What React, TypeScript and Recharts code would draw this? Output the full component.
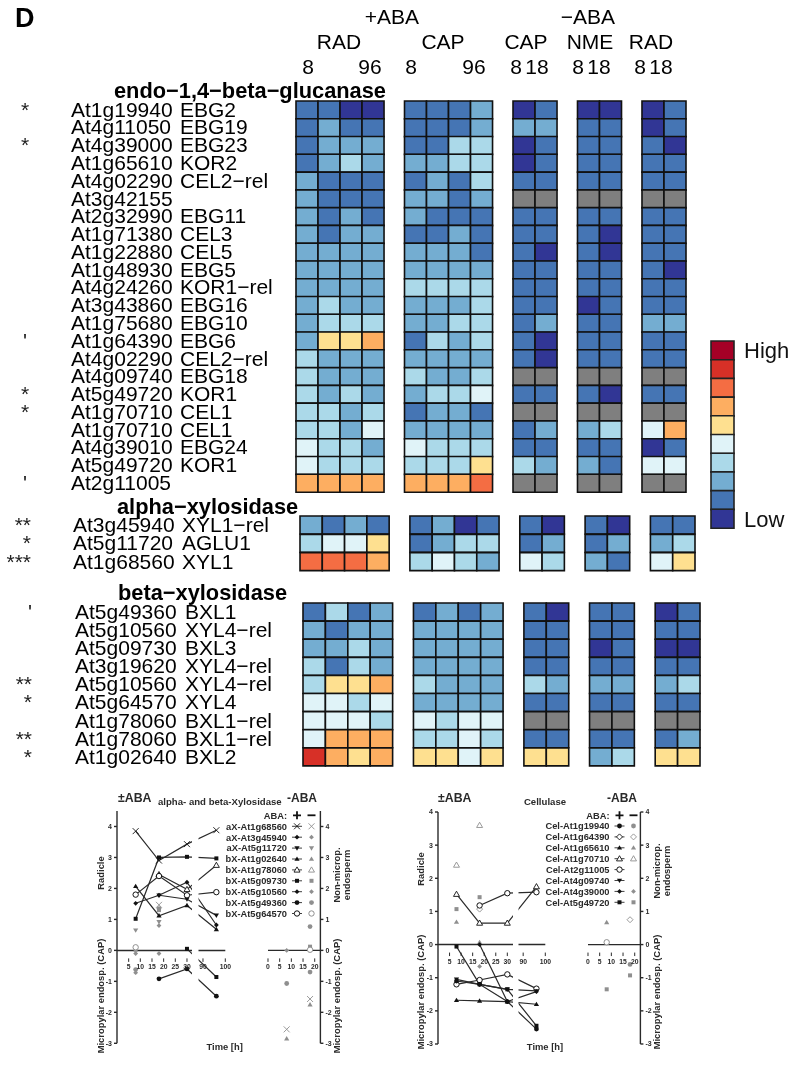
import React from "react";
import { BarChart, Bar, Cell, XAxis, YAxis, LineChart, Line, ReferenceLine } from "recharts";

const FONT = "'Liberation Sans', Arial, sans-serif";
const PALETTE = ["#313695", "#4575b4", "#74add1", "#abd9e9", "#e0f3f8", "#fee090", "#fdae61", "#f46d43", "#d73027", "#a50026"];
const NA_COLOR = "#7f7f7f";
const N = -1;

const endoIds = ["At1g19940","At4g11050","At4g39000","At1g65610","At4g02290","At3g42155","At2g32990","At1g71380","At1g22880","At1g48930","At4g24260","At3g43860","At1g75680","At1g64390","At4g02290","At4g09740","At5g49720","At1g70710","At1g70710","At4g39010","At5g49720","At2g11005"];
const endoNames = ["EBG2","EBG19","EBG23","KOR2","CEL2\u2212rel","","EBG11","CEL3","CEL5","EBG5","KOR1\u2212rel","EBG16","EBG10","EBG6","CEL2\u2212rel","EBG18","KOR1","CEL1","CEL1","EBG24","KOR1",""];
const endoMarks = ["*","","*","","","","","","","","","","","'","","","*","*","","","","'"];
const endoLevels = [
  [1,1,0,0,1,1,1,2,0,1,0,0,0,1],
  [1,2,1,1,1,1,1,2,2,2,1,1,0,1],
  [1,2,2,2,1,1,3,3,0,1,1,1,1,0],
  [1,2,3,2,2,2,3,3,0,1,1,1,1,1],
  [2,1,1,1,1,2,1,3,1,1,1,1,1,1],
  [2,1,1,1,2,2,1,2,N,N,N,N,N,N],
  [2,1,2,1,2,1,1,1,1,1,1,1,1,1],
  [2,1,2,2,1,1,2,1,1,1,1,0,1,1],
  [2,2,2,2,2,2,2,1,1,0,1,0,1,1],
  [2,2,2,2,2,2,2,2,1,1,1,1,1,0],
  [2,2,2,2,3,3,3,3,1,1,1,1,1,1],
  [2,3,2,2,2,2,2,3,1,1,0,1,1,1],
  [2,3,3,3,2,2,3,3,1,2,1,1,2,2],
  [2,5,5,6,1,3,2,3,1,0,1,1,1,1],
  [3,2,2,2,2,2,2,2,1,0,1,1,1,1],
  [3,2,2,2,3,2,2,3,N,N,N,N,N,N],
  [3,2,3,2,2,3,3,4,1,1,1,0,1,1],
  [3,3,2,3,1,2,2,1,N,N,N,N,N,N],
  [3,3,2,4,2,2,2,2,1,2,2,3,4,6],
  [4,3,3,2,4,3,3,3,1,1,1,1,0,1],
  [4,3,3,3,3,3,3,5,3,2,2,1,4,4],
  [6,6,6,6,6,6,6,7,N,N,N,N,N,N],
];

const alphaIds = ["At3g45940","At5g11720","At1g68560"];
const alphaNames = ["XYL1\u2212rel","AGLU1","XYL1"];
const alphaMarks = ["**","*","***"];
const alphaLevels = [
  [2,1,2,1,1,2,0,1,1,0,1,0,1,1],
  [3,4,4,5,1,2,3,3,1,2,1,2,2,3],
  [7,7,7,6,3,4,3,2,4,3,2,1,4,5],
];

const betaIds = ["At5g49360","At5g10560","At5g09730","At3g19620","At5g10560","At5g64570","At1g78060","At1g78060","At1g02640"];
const betaNames = ["BXL1","XYL4\u2212rel","BXL3","XYL4\u2212rel","XYL4\u2212rel","XYL4","BXL1\u2212rel","BXL1\u2212rel","BXL2"];
const betaMarks = ["'","","","","**","*","","**","*"];
const betaLevels = [
  [1,3,1,2,1,2,1,2,1,0,1,1,0,1],
  [2,1,2,2,2,2,2,2,1,1,1,1,1,1],
  [2,2,3,2,2,2,2,2,1,1,0,1,0,0],
  [3,1,3,2,2,2,2,2,1,1,1,1,1,1],
  [3,5,5,6,3,2,2,2,3,2,2,2,2,3],
  [4,4,3,4,2,2,2,2,1,1,1,1,1,1],
  [4,4,4,3,4,3,4,4,N,N,N,N,N,N],
  [4,6,6,6,3,3,4,3,1,1,1,1,1,2],
  [8,6,5,6,5,5,4,5,5,5,2,3,5,5],
];

const scaleLevels = [9,8,7,6,5,4,3,2,1,0];
const scaleLabels = ["High","","","","","","","","","Low"];

type Seg = { kind: string; values: (number | null)[] };
const timeHours = [8, 18, 30, 96];
const minusHours = [8, 18];

const xylPlus: Seg[] = [
  { kind: "x", values: [3.85, 2.9, 3.43, 3.88] },
  { kind: "tridown", values: [null, 1.78, 1.65, 1.13] },
  { kind: "tri", values: [2.07, 1.12, 1.45, 0.68] },
  { kind: "opentri", values: [null, 2.45, 1.97, 2.75] },
  { kind: "square", values: [1.02, 3.0, 3.02, 2.97] },
  { kind: "square", values: [null, null, 0.05, -0.86] },
  { kind: "star", values: [1.52, 1.78, 2.2, 0.82] },
  { kind: "circle", values: [null, -0.92, -0.6, -1.48] },
  { kind: "opencircle", values: [1.8, 2.4, 1.78, 1.88] },
];
const xylGreyAt: Seg[] = [
  { kind: "x", values: [null, 1.47, null, null] },
  { kind: "circle", values: [-0.62, 1.35, null, null] },
  { kind: "square", values: [0.02, 1.3, null, null] },
  { kind: "tridown", values: [0.65, 0.92, null, null] },
  { kind: "star", values: [-0.72, 0.8, null, null] },
  { kind: "opencircle", values: [0.1, null, null, null] },
  { kind: "star", values: [-0.1, -0.1, null, null] },
];
const xylMinus: Seg[] = [
  { kind: "x", values: [-2.55, -1.57] },
  { kind: "tri", values: [-2.85, -1.75] },
  { kind: "circle", values: [-1.07, -0.7] },
  { kind: "circle", values: [null, 0.77] },
  { kind: "square", values: [null, 0.12] },
  { kind: "opencircle", values: [null, 0.02] },
  { kind: "star", values: [0, null] },
];
const celPlus: Seg[] = [
  { kind: "opentri", values: [1.52, 0.65, 0.65, 1.75] },
  { kind: "opencircle", values: [null, 1.18, 1.55, 1.58] },
  { kind: "opencircle", values: [-1.2, -1.07, -0.9, -1.33] },
  { kind: "circle", values: [-1.1, -1.2, -1.72, -2.55] },
  { kind: "tri", values: [-1.68, -1.7, -1.72, -1.8] },
  { kind: "square", values: [-0.06, -1.2, -1.35, -2.45] },
  { kind: "tridown", values: [-1.05, -1.2, -1.35, -1.4] },
  { kind: "star", values: [null, 0, -1.72, -1.42] },
];
const celGreyAt: Seg[] = [
  { kind: "opentri", values: [2.4, 3.6, null, null] },
  { kind: "square", values: [1.07, 1.43, null, null] },
  { kind: "tri", values: [0.68, 0.07, null, null] },
  { kind: "opendiamond", values: [null, 1.07, null, null] },
  { kind: "star", values: [null, -0.66, null, null] },
];
const celMinus: Seg[] = [
  { kind: "tri", values: [0.67, null] },
  { kind: "opencircle", values: [0.07, null] },
  { kind: "square", values: [-1.35, -0.93] },
  { kind: "opendiamond", values: [null, 0.75] },
  { kind: "circle", values: [null, -0.6] },
];

const xylLegendNames = ["aX-At1g68560","aX-At3g45940","aX-At5g11720","bX-At1g02640","bX-At1g78060","bX-At5g09730","bX-At5g10560","bX-At5g49360","bX-At5g64570"];
const xylLegendKinds = ["x","star","tridown","tri","opentri","square","star","circle","opencircle"];
const celLegendNames = ["Cel-At1g19940","Cel-At1g64390","Cel-At1g65610","Cel-At1g70710","Cel-At2g11005","Cel-At4g09740","Cel-At4g39000","Cel-At5g49720"];
const celLegendKinds = ["circle","opendiamond","tri","opentri","opencircle","tridown","star","square"];
const celLegendMinus = ["circle","opendiamond","tri","opentri","","", "star","square"];

const leftTicks = [5, 10, 15, 20, 25, 30, 90, 100];
const minusTicks = [0, 5, 10, 15, 20];
const valueTicks = [-3, -2, -1, 0, 1, 2, 3, 4];

// broken time axis: the stretch after 30 h is compressed
const brokenTime = (t: number) => (t <= 32 ? t : 46.43 - (100 - t) * 0.957);

const COLS = ["c0","c1","c2","c3","g0","c4","c5","c6","c7","g1","c8","c9","g2","c10","c11","g3","c12","c13"];
const GAP = 0.93;

function Heat({ ids, names, marks, levels, left, top, right, bottom, idX, nameX, markX, markAnchor }: any) {
  const data = levels.map((row: number[], i: number) => {
    const o: any = { row: i };
    row.forEach((v, j) => { o["c" + j] = 1; });
    [0, 1, 2, 3].forEach((g) => { o["g" + g] = GAP; });
    return o;
  });
  const Tick = (p: any) => {
    const i = Number(p.payload.value);
    const by = p.y + 6.8;
    return (
      <g fontFamily={FONT} fontSize={21} fill="#000">
        <text x={idX} y={by}>{ids[i]}</text>
        <text x={nameX} y={by}>{names[i]}</text>
        <text x={markX} y={by} textAnchor={markAnchor} fill="#222">{marks[i]}</text>
      </g>
    );
  };
  let col = 0;
  return (
    <div style={{ position: "absolute", left: 0, top: top - 2 }}>
      <BarChart layout="vertical" width={right + 2} height={bottom - top + 4} data={data} barCategoryGap={0} barGap={0}
        margin={{ top: 2, bottom: 2, left: 0, right: 2 }}>
        <XAxis type="number" hide domain={[0, 14 + 4 * GAP]} />
        <YAxis type="category" dataKey="row" width={left} axisLine={false} tickLine={false} tick={Tick} interval={0} />
        {COLS.map((k) => {
          if (k[0] === "g") return <Bar key={k} dataKey={k} stackId="s" fill="none" stroke="none" isAnimationActive={false} />;
          const c = col++;
          return (
            <Bar key={k} dataKey={k} stackId="s" stroke="#111" strokeWidth={1.6} isAnimationActive={false}>
              {levels.map((row: number[], i: number) => (
                <Cell key={i} fill={row[c] < 0 ? NA_COLOR : PALETTE[row[c]]} />
              ))}
            </Bar>
          );
        })}
      </BarChart>
    </div>
  );
}

function ColorScale() {
  const data = scaleLevels.map((v, i) => ({ label: String(i), one: 1 }));
  const Tick = (p: any) => {
    const t = scaleLabels[Number(p.payload.value)];
    return <text x={p.x + 2} y={p.y + 8} fontFamily={FONT} fontSize={22} fill="#111">{t}</text>;
  };
  return (
    <div style={{ position: "absolute", left: 709, top: 339 }}>
      <BarChart layout="vertical" width={87} height={191} data={data} barCategoryGap={0}
        margin={{ top: 2, bottom: 2, left: 2, right: 0 }}>
        <XAxis type="number" hide domain={[0, 1]} />
        <YAxis type="category" dataKey="label" orientation="right" width={62} axisLine={false} tickLine={false} tick={Tick} interval={0} />
        <Bar dataKey="one" stroke="#222" strokeWidth={1.6} isAnimationActive={false}>
          {scaleLevels.map((v) => <Cell key={v} fill={PALETTE[v]} />)}
        </Bar>
      </BarChart>
    </div>
  );
}

function Marker({ cx, cy, kind, color }: { cx: number; cy: number; kind: string; color: string }) {
  if (cx == null || cy == null) return <g />;
  const sw = 1;
  const s = 2.6;
  switch (kind) {
    case "x":
      return <path d={`M${cx - 3} ${cy - 3}L${cx + 3} ${cy + 3}M${cx - 3} ${cy + 3}L${cx + 3} ${cy - 3}`} stroke={color} strokeWidth={0.9} fill="none" />;
    case "circle":
      return <circle cx={cx} cy={cy} r={2.4} fill={color} />;
    case "opencircle":
      return <circle cx={cx} cy={cy} r={2.7} fill="#fff" stroke={color} strokeWidth={sw} />;
    case "square":
      return <rect x={cx - 2} y={cy - 2} width={4} height={4} fill={color} />;
    case "tri":
      return <path d={`M${cx} ${cy - s}L${cx + s} ${cy + s * 0.7}L${cx - s} ${cy + s * 0.7}Z`} fill={color} />;
    case "opentri":
      return <path d={`M${cx} ${cy - 3}L${cx + 3} ${cy + 2.2}L${cx - 3} ${cy + 2.2}Z`} fill="#fff" stroke={color} strokeWidth={sw * 0.9} />;
    case "tridown":
      return <path d={`M${cx} ${cy + s}L${cx + s} ${cy - s * 0.7}L${cx - s} ${cy - s * 0.7}Z`} fill={color} />;
    case "star":
      return <path d={`M${cx} ${cy - 2.4}L${cx + 2.4} ${cy}L${cx} ${cy + 2.4}L${cx - 2.4} ${cy}Z`} fill={color} />;
    case "opendiamond":
      return <path d={`M${cx} ${cy - 3}L${cx + 3} ${cy}L${cx} ${cy + 3}L${cx - 3} ${cy}Z`} fill="#fff" stroke={color} strokeWidth={sw * 0.9} />;
    default:
      return <g />;
  }
}

const INK = "#2a2a2a";
const GREY = "#8f8f8f";
const SOFT = "blur(0.3px)";

function TimeAxisTick({ x, y, payload, shift, fmt }: any) {
  const yy = y - shift;
  return (
    <g>
      <line x1={x} x2={x} y1={yy} y2={yy + 3.5} stroke={INK} strokeWidth={1} />
      <text x={x} y={yy + 11} textAnchor="middle" fontFamily={FONT} fontWeight={700} fontSize={6.8} fill={INK}>{fmt(payload.value)}</text>
    </g>
  );
}

function tableFrom(hours: number[], segs: Seg[], prefix: string, rows: any[]) {
  hours.forEach((h, i) => {
    rows[i] = rows[i] || { u: h <= 32 ? h : brokenTime(h) };
    segs.forEach((s, j) => { rows[i][prefix + j] = s.values[i]; });
  });
  return rows;
}

function TimeCourse({ plus, greyAt, minus, axisLeft, axisRightEnd, topY, bottomY, topVal, minusStart, minusEnd }: any) {
  const h = bottomY - topY;
  const unit = h / (topVal + 3);
  const shift = 3 * unit;
  const rows = tableFrom(timeHours, greyAt, "g", tableFrom(timeHours, plus, "p", []));
  const mRows = tableFrom(minusHours, minus, "m", []);
  const Y0 = 40;
  const PAD = 12;
  const dot = (kind: string, color: string) => (p: any) => <Marker key={p.key} cx={p.value == null ? (null as any) : p.cx} cy={p.cy} kind={kind} color={color} />;
  return (
    <>
      <div style={{ position: "absolute", left: axisLeft - Y0, top: topY - 4, filter: SOFT }}>
        <LineChart width={Y0 + axisRightEnd - axisLeft + PAD} height={h + 4 + 30} data={rows} margin={{ top: 4, left: 0, right: PAD, bottom: 0 }}>
          <XAxis type="number" dataKey="u" domain={[0, 46.43]} ticks={leftTicks.map(brokenTime)} height={30} interval={0} axisLine={false} tickLine={false}
            tick={<TimeAxisTick shift={shift} fmt={(v: number) => String(leftTicks[leftTicks.map(brokenTime).indexOf(v)])} />} />
          <YAxis type="number" domain={[-3, topVal]} ticks={valueTicks} width={Y0} interval={0} stroke={INK} strokeWidth={1.4} tickSize={3}
            tick={{ fontFamily: FONT, fontWeight: 700, fontSize: 7, fill: INK }} />
          {greyAt.map((s: Seg, j: number) => (
            <Line key={"g" + j} dataKey={"g" + j} stroke="none" dot={dot(s.kind, GREY)} legendType="none" isAnimationActive={false} />
          ))}
          {plus.map((s: Seg, j: number) => (
            <Line key={"p" + j} dataKey={"p" + j} stroke={INK} strokeWidth={1.2} dot={dot(s.kind, "#111")} isAnimationActive={false} />
          ))}
          <ReferenceLine y={0} stroke={INK} strokeWidth={1.5} />
        </LineChart>
      </div>
      <div style={{ position: "absolute", left: minusStart - PAD, top: topY - 4, filter: SOFT }}>
        <LineChart width={minusEnd - minusStart + 30 + PAD} height={h + 4 + 30} data={mRows} margin={{ top: 4, left: PAD, right: 0, bottom: 0 }}>
          <XAxis type="number" dataKey="u" domain={[0, 22.43]} ticks={minusTicks} height={30} interval={0} axisLine={false} tickLine={false}
            tick={<TimeAxisTick shift={shift} fmt={(v: number) => String(v)} />} />
          <YAxis type="number" orientation="right" domain={[-3, topVal]} ticks={valueTicks} width={30} interval={0} stroke={INK} strokeWidth={1.4} tickSize={3}
            tick={{ fontFamily: FONT, fontWeight: 700, fontSize: 7, fill: INK }} />
          <ReferenceLine y={0} stroke={INK} strokeWidth={1.2} />
          {minus.map((s: Seg, j: number) => (
            <Line key={"m" + j} dataKey={"m" + j} stroke="none" dot={dot(s.kind, GREY)} isAnimationActive={false} />
          ))}
        </LineChart>
      </div>
    </>
  );
}

function Txt({ x, y, s, w, a, rot, c, t }: any) {
  return (
    <text x={x} y={y} fontSize={s} fontWeight={w ? 700 : 400} textAnchor={a || "start"} fill={c || "#000"} fontFamily={FONT}
      transform={rot ? `rotate(-90 ${x} ${y})` : undefined}>{t}</text>
  );
}

function LegendBlock({ names, kinds, minusKinds, textEnd, plusX, minusX, y0, step, headY }: any) {
  return (
    <g>
      <Txt x={textEnd} y={headY + 3.5} s={9.3} w a="end" t="ABA:" c={INK} />
      <path d={`M${plusX - 4} ${headY}H${plusX + 4}M${plusX} ${headY - 4}V${headY + 4}`} stroke="#111" strokeWidth={1.8} />
      <path d={`M${minusX - 4} ${headY}H${minusX + 4}`} stroke="#111" strokeWidth={1.8} />
      {names.map((n: string, i: number) => {
        const y = y0 + i * step;
        return (
          <g key={n}>
            <Txt x={textEnd} y={y + 3.3} s={9.3} w a="end" t={n} c={INK} />
            <line x1={plusX - 5} x2={plusX + 5} y1={y} y2={y} stroke={INK} strokeWidth={0.9} />
            <Marker cx={plusX} cy={y} kind={kinds[i]} color="#111" />
            <Marker cx={minusX} cy={y} kind={(minusKinds || kinds)[i]} color={GREY} />
          </g>
        );
      })}
    </g>
  );
}

function Overlay() {
  const L = 9.4;
  return (
    <svg width={796} height={1075} style={{ position: "absolute", left: 0, top: 0, pointerEvents: "none" }}>
      <Txt x={15} y={27} s={27} w t="D" />
      <Txt x={392} y={24} s={21} a="middle" t="+ABA" />
      <Txt x={588} y={24} s={21} a="middle" t={"\u2212ABA"} />
      <Txt x={339} y={49} s={21} a="middle" t="RAD" />
      <Txt x={443} y={49} s={21} a="middle" t="CAP" />
      <Txt x={526} y={49} s={21} a="middle" t="CAP" />
      <Txt x={590} y={49} s={21} a="middle" t="NME" />
      <Txt x={651} y={49} s={21} a="middle" t="RAD" />
      {[[308,"8"],[370,"96"],[411,"8"],[474,"96"],[516,"8"],[537,"18"],[578,"8"],[599,"18"],[640,"8"],[661,"18"]].map(([x, t]: any, i) => (
        <Txt key={i} x={x} y={74} s={21} a="middle" t={t} />
      ))}
      <Txt x={114} y={98} s={21.8} w t={"endo\u22121,4\u2212beta\u2212glucanase"} />
      <Txt x={117} y={514} s={21.8} w t={"alpha\u2212xylosidase"} />
      <Txt x={118} y={600} s={21.8} w t={"beta\u2212xylosidase"} />

      {/* the gaps in the broken time axes */}
      <rect x={192} y={808} width={6.5} height={240} fill="#fff" />
      <rect x={513} y={808} width={5.5} height={240} fill="#fff" />

      <g style={{ filter: SOFT }}>
        <Txt x={118} y={801.5} s={12.3} w t={"\u00b1ABA"} c={INK} />
        <Txt x={158} y={805} s={9.6} w t="alpha- and beta-Xylosidase" c={INK} />
        <Txt x={287} y={801.5} s={12} w t="-ABA" c={INK} />
        <Txt x={224.7} y={1050} s={L} w a="middle" t="Time [h]" c={INK} />
        <Txt x={104} y={873} s={L} w a="middle" rot t="Radicle" c={INK} />
        <Txt x={104} y={996} s={L} w a="middle" rot t="Micropylar endosp. (CAP)" c={INK} />
        <Txt x={339.5} y={875} s={L} w a="middle" rot t="Non-microp." c={INK} />
        <Txt x={350} y={875} s={L} w a="middle" rot t="endosperm" c={INK} />
        <Txt x={339.5} y={996} s={L} w a="middle" rot t="Micropylar endosp. (CAP)" c={INK} />
        <LegendBlock names={xylLegendNames} kinds={xylLegendKinds} textEnd={287} plusX={297} minusX={311.5} y0={826.3} step={10.9} headY={815.3} />

        <Txt x={438} y={801.5} s={12.3} w t={"\u00b1ABA"} c={INK} />
        <Txt x={545} y={805} s={9.6} w a="middle" t="Cellulase" c={INK} />
        <Txt x={607} y={801.5} s={12} w t="-ABA" c={INK} />
        <Txt x={545} y={1050} s={L} w a="middle" t="Time [h]" c={INK} />
        <Txt x={424} y={869} s={L} w a="middle" rot t="Radicle" c={INK} />
        <Txt x={424} y={992} s={L} w a="middle" rot t="Micropylar endosp. (CAP)" c={INK} />
        <Txt x={659.5} y={871} s={L} w a="middle" rot t="Non-microp." c={INK} />
        <Txt x={670} y={871} s={L} w a="middle" rot t="endosperm" c={INK} />
        <Txt x={659.5} y={992} s={L} w a="middle" rot t="Micropylar endosp. (CAP)" c={INK} />
        <LegendBlock names={celLegendNames} kinds={celLegendKinds} minusKinds={celLegendMinus} textEnd={609.5} plusX={619.5} minusX={633.5} y0={826} step={10.9} headY={815.3} />
      </g>
    </svg>
  );
}

export default function App() {
  return (
    <div style={{ position: "absolute", left: 0, top: 0, width: 796, height: 1075, background: "#fff", overflow: "hidden", filter: "blur(0.3px)" }}>
      <TimeCourse plus={xylPlus} greyAt={xylGreyAt} minus={xylMinus} axisLeft={116.7} axisRightEnd={225} topY={811} bottomY={1043.3} topVal={4.5} minusStart={268.3} minusEnd={320.7} />
      <TimeCourse plus={celPlus} greyAt={celGreyAt} minus={celMinus} axisLeft={437.7} axisRightEnd={545} topY={811.7} bottomY={1043.7} topVal={4} minusStart={588.3} minusEnd={640.7} />
      <Heat ids={endoIds} names={endoNames} marks={endoMarks} levels={endoLevels} left={296} top={101} right={686} bottom={492} idX={71} nameX={180} markX={25} markAnchor="middle" />
      <Heat ids={alphaIds} names={alphaNames} marks={alphaMarks} levels={alphaLevels} left={300} top={516} right={695} bottom={571} idX={73} nameX={182} markX={31} markAnchor="end" />
      <Heat ids={betaIds} names={betaNames} marks={betaMarks} levels={betaLevels} left={303} top={603} right={700} bottom={766} idX={75} nameX={185} markX={32} markAnchor="end" />
      <ColorScale />
      <Overlay />
    </div>
  );
}
